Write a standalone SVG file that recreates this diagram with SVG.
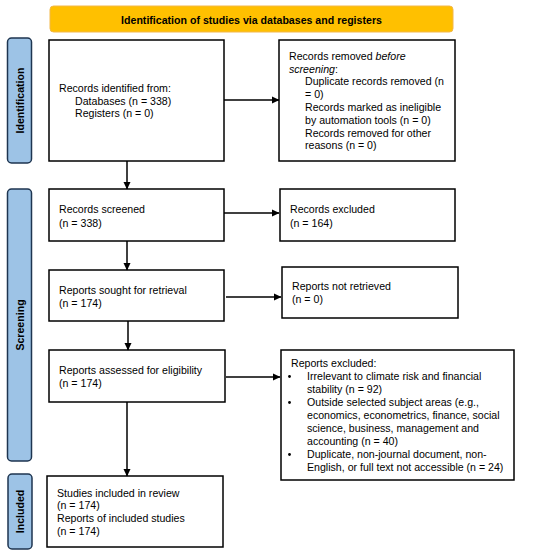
<svg xmlns="http://www.w3.org/2000/svg" width="550" height="557" viewBox="0 0 550 557">
<defs>
<marker id="ah" markerWidth="8" markerHeight="8" refX="7" refY="4" orient="auto" markerUnits="userSpaceOnUse">
<path d="M0,0.5 L7.5,4 L0,7.5 Z" fill="#000"/>
</marker>
<style>
.box{fill:#fff;stroke:#000;stroke-width:1.5}
.side{fill:#9DC3E6;stroke:#1E3550;stroke-width:1.5}
.t{font-family:"Liberation Sans",Arial,sans-serif;font-size:10.6px;fill:#000}
.b{font-family:"Liberation Sans",Arial,sans-serif;font-size:10.6px;font-weight:bold;fill:#000}
.c{stroke:#000;stroke-width:1.5;fill:none;marker-end:url(#ah)}
</style>
</defs>
<rect width="550" height="557" fill="#fff"/>
<g id="banner">
<rect x="50" y="6" width="403" height="26" rx="3.5" fill="#FFC000" stroke="#F2B84B" stroke-width="1"/>
<text class="b" x="251.5" y="23.5" text-anchor="middle">Identification of studies via databases and registers</text>
</g>
<g id="side-identification">
<rect class="side" x="7.5" y="38" width="24" height="125" rx="4"/>
<text class="b" transform="translate(23.5,100.5) rotate(-90)" text-anchor="middle">Identification</text>
</g>
<g id="side-screening">
<rect class="side" x="7.5" y="189" width="24" height="272" rx="4"/>
<text class="b" transform="translate(23.5,325) rotate(-90)" text-anchor="middle">Screening</text>
</g>
<g id="side-included">
<rect class="side" x="8" y="474" width="24" height="75" rx="4"/>
<text class="b" transform="translate(24,511.5) rotate(-90)" text-anchor="middle">Included</text>
</g>
<g id="records-identified">
<rect class="box" x="49" y="40" width="175" height="121"/>
<text class="t" x="59" y="92">Records identified from:</text>
<text class="t" x="75" y="104.7">Databases (n = 338)</text>
<text class="t" x="75" y="117.4">Registers (n = 0)</text>
</g>
<g id="records-removed">
<rect class="box" x="279" y="40" width="176" height="121"/>
<text class="t" x="289" y="59.7">Records removed <tspan font-style="italic">before</tspan></text>
<text class="t" x="289" y="72.5"><tspan font-style="italic">screening</tspan>:</text>
<text class="t" x="305" y="85.3">Duplicate records removed (n</text>
<text class="t" x="305" y="98.1">= 0)</text>
<text class="t" x="305" y="110.9">Records marked as ineligible</text>
<text class="t" x="305" y="123.7">by automation tools (n = 0)</text>
<text class="t" x="305" y="136.5">Records removed for other</text>
<text class="t" x="305" y="149.3">reasons (n = 0)</text>
</g>
<g id="records-screened">
<rect class="box" x="49" y="189" width="175" height="52"/>
<text class="t" x="59" y="213">Records screened</text>
<text class="t" x="59" y="226.5">(n = 338)</text>
</g>
<g id="records-excluded">
<rect class="box" x="280" y="189" width="175" height="52"/>
<text class="t" x="290" y="213">Records excluded</text>
<text class="t" x="290" y="226.5">(n = 164)</text>
</g>
<g id="reports-sought">
<rect class="box" x="49" y="270" width="175" height="51"/>
<text class="t" x="59" y="294">Reports sought for retrieval</text>
<text class="t" x="59" y="307.3">(n = 174)</text>
</g>
<g id="reports-not-retrieved">
<rect class="box" x="282" y="267" width="176" height="51"/>
<text class="t" x="292" y="290">Reports not retrieved</text>
<text class="t" x="292" y="303.3">(n = 0)</text>
</g>
<g id="reports-assessed">
<rect class="box" x="49" y="350" width="176" height="52"/>
<text class="t" x="59" y="374">Reports assessed for eligibility</text>
<text class="t" x="59" y="387.3">(n = 174)</text>
</g>
<g id="reports-excluded">
<rect class="box" x="281" y="350" width="233" height="130"/>
<text class="t" x="291" y="366.8">Reports excluded:</text>
<circle cx="289.5" cy="376.5" r="1.4" fill="#000"/>
<text class="t" x="307" y="379.6">Irrelevant to climate risk and financial</text>
<text class="t" x="307" y="392.6">stability (n = 92)</text>
<circle cx="289.5" cy="402.5" r="1.4" fill="#000"/>
<text class="t" x="307" y="405.6">Outside selected subject areas (e.g.,</text>
<text class="t" x="307" y="418.6">economics, econometrics, finance, social</text>
<text class="t" x="307" y="431.6">science, business, management and</text>
<text class="t" x="307" y="444.6">accounting (n = 40)</text>
<circle cx="289.5" cy="454.5" r="1.4" fill="#000"/>
<text class="t" x="307" y="457.6">Duplicate, non-journal document, non-</text>
<text class="t" x="307" y="470.6">English, or full text not accessible (n = 24)</text>
</g>
<g id="studies-included">
<rect class="box" x="47" y="476" width="176" height="71"/>
<text class="t" x="57" y="496.5">Studies included in review</text>
<text class="t" x="57" y="509.3">(n = 174)</text>
<text class="t" x="57" y="522.1">Reports of included studies</text>
<text class="t" x="57" y="534.9">(n = 174)</text>
</g>
<g id="connectors">
<line class="c" x1="224" y1="100" x2="279" y2="100"/>
<line class="c" x1="127" y1="161" x2="127" y2="189"/>
<line class="c" x1="224" y1="213" x2="279" y2="213"/>
<line class="c" x1="127" y1="241" x2="127" y2="270"/>
<line class="c" x1="226" y1="297" x2="281" y2="297"/>
<line class="c" x1="128" y1="321" x2="128" y2="350"/>
<line class="c" x1="226" y1="377" x2="280" y2="377"/>
<line class="c" x1="127" y1="402" x2="127" y2="476"/>
</g>
</svg>
